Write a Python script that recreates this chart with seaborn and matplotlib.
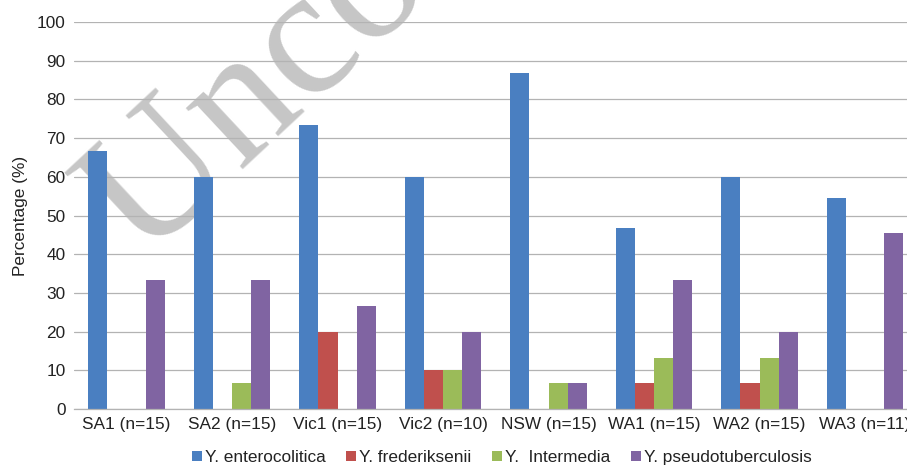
import matplotlib
matplotlib.use("Agg")
import matplotlib.pyplot as plt
import pandas as pd
import seaborn as sns

# Isolates per site, percentage of each Yersinia species
sites = ["SA1 (n=15)", "SA2 (n=15)", "Vic1 (n=15)", "Vic2 (n=10)",
         "NSW (n=15)", "WA1 (n=15)", "WA2 (n=15)", "WA3 (n=11)"]
species = ["Y. enterocolitica", "Y. frederiksenii", "Y.  Intermedia",
           "Y. pseudotuberculosis"]
enterocolitica = [66.7, 60.0, 73.3, 60.0, 86.7, 46.7, 60.0, 54.5]
frederiksenii = [0.0, 0.0, 20.0, 10.0, 0.0, 6.7, 6.7, 0.0]
intermedia = [0.0, 6.7, 0.0, 10.0, 6.7, 13.3, 13.3, 0.0]
pseudotuberculosis = [33.3, 33.3, 26.7, 20.0, 6.7, 33.3, 20.0, 45.5]
yticks = list(range(0, 101, 10))

colors = ["#4a7fc1", "#c0504d", "#9bbb59", "#8064a2"]

series = [enterocolitica, frederiksenii, intermedia, pseudotuberculosis]
df = pd.DataFrame(
    [(site, sp, vals[i]) for sp, vals in zip(species, series)
     for i, site in enumerate(sites)],
    columns=["site", "species", "pct"],
)

sns.set_theme(style="white")
plt.rcParams["font.family"] = ["Liberation Sans", "DejaVu Sans"]
text_color = "#222222"
fs = 12.4

fig = plt.figure(figsize=(9.07, 4.65), dpi=100, facecolor="white")
ax = fig.add_axes([0.0813, 0.1204, 0.9306, 0.8323])
ax.patch.set_visible(False)

# Faint proof watermark behind the plot
fig.text(0.158, 0.435, "Uncorrected Proof", rotation=43,
         rotation_mode="anchor", ha="left", va="baseline",
         fontsize=132, color="#c6c6c6",
         family=["Liberation Serif", "DejaVu Serif"], zorder=-1)

sns.barplot(data=df, x="site", y="pct", hue="species", order=sites,
            hue_order=species, palette=colors, saturation=1,
            width=0.727, gap=0, linewidth=0, ax=ax)

handles, labels = ax.get_legend_handles_labels()
ax.get_legend().remove()

ax.set_xlim(-0.5, len(sites) - 0.5)
ax.set_ylim(0, 100)
ax.set_yticks(yticks)
ax.set_axisbelow(True)
ax.yaxis.grid(True, color="#b3b3b3", linewidth=0.9)
ax.xaxis.grid(False)
for side in ["top", "right", "left"]:
    ax.spines[side].set_visible(False)
ax.spines["bottom"].set_color("#b3b3b3")
ax.spines["bottom"].set_linewidth(0.9)

ax.tick_params(axis="y", length=0, pad=6, labelsize=fs, labelcolor=text_color)
ax.tick_params(axis="x", length=0, pad=6, labelsize=fs, labelcolor=text_color)
ax.set_xlabel("")
ax.set_ylabel("Percentage (%)", fontsize=fs, color=text_color, labelpad=6)

fig.legend(handles, labels, loc="center", bbox_to_anchor=(0.553, 0.016),
           ncol=4, frameon=False, fontsize=fs, labelcolor=text_color,
           handlelength=0.6, handleheight=0.6, handletextpad=0.15,
           columnspacing=1.2, borderpad=0)

fig.savefig("out.png", dpi=100, facecolor="white")
